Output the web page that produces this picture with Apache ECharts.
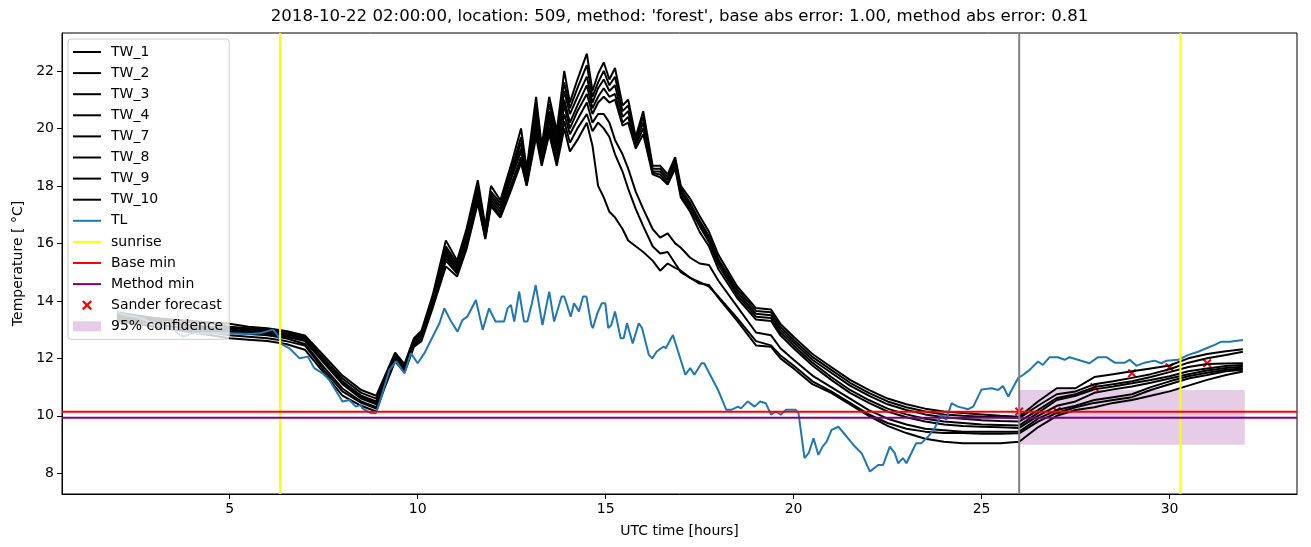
<!DOCTYPE html>
<html>
<head>
<meta charset="utf-8">
<script src="https://cdn.jsdelivr.net/npm/echarts@6/dist/echarts.min.js"></script>
<style>
  html, body { margin: 0; padding: 0; background: #fff; }
  #chart { width: 1311px; height: 547px; }
</style>
</head>
<body>
<div id="chart"></div>
<script>
// hours (UTC) shared by the TW sensors
const twHours = [
  2.0, 2.5, 3.0, 3.5, 4.0, 4.5, 5.0, 5.5, 6.0, 6.5,
  7.0, 7.5, 8.0, 8.5, 8.9, 9.1, 9.4, 9.65, 9.9, 10.1,
  10.4, 10.75, 11.05, 11.3, 11.6, 11.8, 11.95, 12.2, 12.5, 12.75,
  12.9, 13.15, 13.3, 13.5, 13.7, 13.9, 14.05, 14.25, 14.5, 14.65,
  14.8, 14.95, 15.1, 15.25, 15.45, 15.6, 15.8, 16.0, 16.25, 16.45,
  16.65, 16.85, 17.0, 17.25, 17.5, 17.75, 18.0, 18.5, 19.0, 19.4,
  19.65, 20.0, 20.5, 21.0, 21.5, 22.0, 22.5, 23.0, 23.5, 24.0,
  24.5, 25.0, 25.5, 26.0, 26.5, 27.0, 27.5, 28.0, 28.5, 29.0,
  29.5, 30.0, 30.5, 31.0, 31.5, 31.95
];

const tw1 = [
  13.6, 13.5, 13.4, 13.35, 13.3, 13.25, 13.2, 13.1, 13.05, 12.95,
  12.8, 12.1, 11.4, 10.9, 10.7, 11.3, 12.2, 11.8, 12.7, 12.95,
  14.2, 16.1, 15.4, 16.5, 18.2, 16.6, 18.0, 17.5, 18.8, 20.0,
  18.6, 21.1, 19.4, 21.1, 19.9, 22.0, 20.9, 21.7, 22.6, 21.3,
  21.9, 22.3, 21.7, 22.1, 20.8, 21.0, 19.7, 20.6, 18.7, 18.7,
  18.4, 19.0, 18.0, 17.55, 16.95, 16.4, 15.6, 14.5, 13.75, 13.7,
  13.2, 12.75, 12.15, 11.7, 11.25, 10.9, 10.6, 10.4, 10.25, 10.15,
  10.1, 10.05, 10.0, 9.97, 10.5, 10.96, 10.96, 11.35, 11.45, 11.55,
  11.65, 11.75, 12.0, 12.15, 12.25, 12.32
];
const tw2 = [
  13.55, 13.45, 13.35, 13.3, 13.25, 13.2, 13.1, 13.05, 13.0, 12.9,
  12.75, 12.0, 11.3, 10.8, 10.6, 11.2, 12.15, 11.75, 12.65, 12.9,
  14.1, 15.9, 15.3, 16.4, 18.0, 16.5, 17.8, 17.4, 18.6, 19.7,
  18.45, 20.8, 19.25, 20.85, 19.7, 21.6, 20.7, 21.4, 22.2, 21.1,
  21.6, 22.0, 21.5, 21.8, 20.6, 20.8, 19.6, 20.4, 18.6, 18.6,
  18.3, 18.9, 17.9, 17.4, 16.8, 16.25, 15.45, 14.4, 13.65, 13.6,
  13.1, 12.65, 12.05, 11.6, 11.15, 10.8, 10.5, 10.3, 10.15, 10.05,
  10.0, 9.97, 9.95, 9.92, 10.35, 10.75, 10.85, 11.1, 11.2, 11.32,
  11.45, 11.62, 11.85, 12.0, 12.12, 12.23
];
const tw3 = [
  13.5, 13.4, 13.3, 13.2, 13.15, 13.1, 13.05, 13.0, 12.95, 12.85,
  12.7, 11.95, 11.2, 10.7, 10.5, 11.15, 12.1, 11.7, 12.6, 12.85,
  14.05, 15.8, 15.2, 16.3, 17.9, 16.4, 17.7, 17.3, 18.5, 19.5,
  18.35, 20.6, 19.15, 20.6, 19.5, 21.3, 20.5, 21.1, 21.8, 20.9,
  21.4, 21.7, 21.3, 21.5, 20.4, 20.6, 19.5, 20.2, 18.5, 18.5,
  18.2, 18.8, 17.8, 17.3, 16.7, 16.15, 15.35, 14.3, 13.55, 13.5,
  13.0, 12.55, 11.95, 11.5, 11.05, 10.7, 10.4, 10.2, 10.05, 9.95,
  9.9, 9.85, 9.82, 9.8, 10.2, 10.62, 10.75, 11.0, 11.1, 11.2,
  11.35, 11.52, 11.7, 11.8, 11.82, 11.83
];
const tw4 = [
  13.45, 13.35, 13.2, 13.1, 13.05, 13.0, 12.95, 12.9, 12.85, 12.75,
  12.6, 11.85, 11.1, 10.6, 10.4, 11.1, 12.05, 11.65, 12.55, 12.8,
  14.0, 15.7, 15.1, 16.2, 17.8, 16.35, 17.6, 17.2, 18.4, 19.3,
  18.25, 20.4, 19.05, 20.4, 19.3, 21.0, 20.2, 20.8, 21.5, 20.7,
  21.1, 21.4, 21.1, 21.2, 20.2, 20.4, 19.4, 20.0, 18.45, 18.4,
  18.1, 18.7, 17.7, 17.2, 16.6, 16.05, 15.25, 14.2, 13.45, 13.4,
  12.9, 12.45, 11.85, 11.35, 10.9, 10.55, 10.25, 10.05, 9.9, 9.8,
  9.75, 9.7, 9.68, 9.66, 10.1, 10.55, 10.7, 10.92, 11.02, 11.13,
  11.25, 11.38, 11.55, 11.65, 11.73, 11.77
];
const tw7 = [
  13.5, 13.4, 13.3, 13.2, 13.1, 13.05, 13.0, 12.95, 12.9, 12.8,
  12.65, 11.9, 11.15, 10.65, 10.45, 11.1, 12.05, 11.65, 12.55, 12.8,
  13.95, 15.6, 15.05, 16.1, 17.7, 16.3, 17.5, 17.1, 18.3, 19.2,
  18.2, 20.2, 18.95, 20.25, 19.2, 20.8, 20.0, 20.6, 21.2, 20.5,
  20.9, 21.1, 20.9, 21.0, 20.1, 20.2, 19.3, 19.8, 18.4, 18.3,
  18.05, 18.6, 17.6, 17.1, 16.4, 15.9, 15.1, 14.1, 13.35, 13.3,
  12.8, 12.35, 11.75, 11.25, 10.8, 10.45, 10.15, 9.95, 9.8, 9.7,
  9.65, 9.62, 9.6, 9.58, 10.0, 10.35, 10.5, 10.8, 10.92, 11.02,
  11.15, 11.3, 11.45, 11.58, 11.66, 11.71
];
const tw8 = [
  13.4, 13.3, 13.2, 13.1, 13.0, 12.95, 12.9, 12.85, 12.8, 12.7,
  12.5, 11.7, 10.95, 10.5, 10.3, 11.0, 12.0, 11.6, 12.5, 12.75,
  13.9, 15.5, 15.0, 16.0, 17.6, 16.25, 17.4, 17.0, 18.1, 19.0,
  18.1, 20.0, 18.85, 20.05, 19.0, 20.5, 19.8, 20.3, 20.9, 20.2,
  20.5, 20.5, 20.2, 19.6, 19.1, 18.6, 17.8, 17.2, 16.5, 16.2,
  16.35, 16.0, 15.85, 15.5, 15.3, 15.25, 14.7, 13.8, 12.9, 12.8,
  12.35, 11.95, 11.4, 11.0, 10.6, 10.2, 9.9, 9.7, 9.55, 9.5,
  9.45, 9.45, 9.45, 9.45, 9.9, 10.2, 10.35, 10.55, 10.65, 10.75,
  11.0, 11.2, 11.38, 11.5, 11.6, 11.65
];
const tw9 = [
  13.35, 13.25, 13.1, 13.0, 12.95, 12.9, 12.8, 12.75, 12.7, 12.6,
  12.45, 11.6, 10.85, 10.45, 10.25, 10.95, 11.95, 11.55, 12.45, 12.7,
  13.85, 15.4, 14.95, 15.9, 17.5, 16.2, 17.35, 16.95, 18.0, 18.9,
  18.05, 19.85, 18.8, 19.9, 18.85, 20.25, 19.5, 20.0, 20.5, 19.9,
  20.2, 20.0, 19.7, 19.1, 18.5, 17.9, 17.2, 16.6, 15.9, 15.65,
  15.7, 15.3, 15.0, 14.8, 14.65, 14.5, 14.15, 13.4, 12.6, 12.45,
  12.1, 11.75, 11.2, 10.85, 10.45, 10.05, 9.75, 9.55, 9.45, 9.4,
  9.4, 9.38, 9.38, 9.39, 9.8, 10.1, 10.3, 10.45, 10.55, 10.65,
  10.9, 11.1, 11.3, 11.42, 11.55, 11.6
];
const tw10 = [
  13.3, 13.2, 13.1, 13.0, 12.9, 12.8, 12.7, 12.65, 12.6, 12.5,
  12.3, 11.5, 10.7, 10.35, 10.15, 10.9, 11.9, 11.5, 12.4, 12.6,
  13.75, 15.2, 14.85, 15.8, 17.4, 16.15, 17.3, 16.9, 17.9, 18.8,
  18.0, 19.7, 18.7, 19.8, 18.7, 20.0, 19.2, 19.6, 20.2, 19.4,
  18.0, 17.6, 17.1, 16.9, 16.5, 16.1, 15.9, 15.7, 15.4, 15.05,
  15.3, 15.15, 15.05, 14.8, 14.6, 14.55, 14.1, 13.3, 12.45, 12.4,
  12.0, 11.65, 11.1, 10.8, 10.4, 10.0, 9.65, 9.4, 9.2, 9.1,
  9.05, 9.05, 9.05, 9.1, 9.6, 10.0, 10.2, 10.3, 10.45, 10.55,
  10.7, 10.85, 11.05, 11.25, 11.42, 11.54
];

const twNames = ['TW_1', 'TW_2', 'TW_3', 'TW_4', 'TW_7', 'TW_8', 'TW_9', 'TW_10'];
const twSeries = [tw1, tw2, tw3, tw4, tw7, tw8, tw9, tw10];

// air temperature TL, [hour, value]
const tlReadings = [
  [2.0, 13.6], [2.25, 13.5], [2.5, 13.45], [2.75, 13.35], [3.0, 13.2], [3.25, 13.1],
  [3.5, 13.0], [3.75, 12.75], [4.0, 12.87], [4.5, 12.87], [5.0, 12.87], [5.5, 12.85],
  [5.8, 12.87], [6.15, 13.0], [6.28, 12.8], [6.37, 12.5], [6.59, 12.35], [6.86, 12.0],
  [7.08, 12.06], [7.25, 11.66], [7.47, 11.48], [7.65, 11.25], [7.92, 10.67], [8.0, 10.5],
  [8.18, 10.55], [8.36, 10.32], [8.49, 10.38], [8.53, 10.26], [8.76, 10.09], [8.89, 10.09],
  [8.98, 10.44], [9.25, 11.6], [9.43, 11.9], [9.65, 11.48], [9.82, 12.18], [10.0, 11.83],
  [10.18, 12.18], [10.58, 13.22], [10.71, 13.74], [10.89, 13.28], [11.06, 12.93], [11.19, 13.33],
  [11.32, 13.45], [11.55, 14.03], [11.73, 12.99], [11.9, 13.74], [12.07, 13.28], [12.3, 13.28],
  [12.39, 13.74], [12.48, 13.86], [12.57, 13.28], [12.7, 14.32], [12.83, 13.28], [12.92, 13.28],
  [13.04, 13.92], [13.14, 14.55], [13.32, 13.16], [13.5, 14.32], [13.63, 13.28], [13.83, 14.15],
  [13.9, 14.15], [14.07, 13.45], [14.16, 13.92], [14.29, 13.63], [14.4, 14.15], [14.49, 14.15],
  [14.62, 13.16], [14.66, 13.05], [14.78, 13.57], [14.9, 13.92], [14.99, 13.92], [15.07, 13.05],
  [15.15, 13.16], [15.25, 13.63], [15.4, 12.7], [15.48, 12.7], [15.57, 13.22], [15.72, 12.52],
  [15.88, 13.22], [15.97, 13.05], [16.15, 12.12], [16.24, 12.0], [16.36, 12.24], [16.54, 12.41],
  [16.6, 12.35], [16.79, 12.81], [17.12, 11.43], [17.25, 11.66], [17.36, 11.43], [17.55, 11.83],
  [17.62, 11.83], [17.99, 10.9], [18.21, 10.21], [18.34, 10.21], [18.52, 10.32], [18.6, 10.26],
  [18.78, 10.5], [18.96, 10.32], [19.11, 10.5], [19.26, 10.44], [19.4, 10.04], [19.53, 10.15],
  [19.66, 10.04], [19.8, 10.21], [20.06, 10.21], [20.13, 10.09], [20.29, 8.53], [20.4, 8.7],
  [20.53, 9.22], [20.66, 8.64], [20.77, 8.93], [20.88, 9.1], [21.01, 9.51], [21.19, 9.62],
  [21.41, 9.28], [21.63, 8.93], [21.81, 8.7], [22.03, 8.06], [22.25, 8.29], [22.38, 8.29],
  [22.56, 8.93], [22.69, 8.7], [22.78, 8.35], [22.91, 8.53], [23.0, 8.35], [23.13, 8.7],
  [23.26, 9.05], [23.4, 9.05], [23.58, 9.28], [23.75, 9.57], [23.93, 10.03], [24.06, 9.86],
  [24.2, 10.44], [24.37, 10.32], [24.64, 10.23], [24.78, 10.32], [25.0, 10.92], [25.27, 10.96],
  [25.44, 10.9], [25.57, 11.04], [25.71, 10.67], [25.8, 10.9], [25.97, 11.31], [26.1, 11.42],
  [26.28, 11.6], [26.5, 11.89], [26.63, 11.77], [26.81, 12.04], [27.03, 12.04], [27.21, 11.95],
  [27.34, 12.04], [27.56, 11.95], [27.87, 11.83], [28.1, 12.04], [28.32, 12.04], [28.54, 11.85],
  [28.81, 11.85], [28.94, 11.95], [29.12, 11.74], [29.34, 11.85], [29.6, 11.92], [29.78, 11.83],
  [29.92, 11.92], [30.23, 11.95], [30.5, 12.12], [30.76, 12.23], [30.98, 12.35], [31.2, 12.47],
  [31.38, 12.58], [31.6, 12.58], [31.95, 12.64]
];

const sanderHours = [26, 27, 28, 29, 30, 31];
const sanderTemps = [10.15, 10.17, 11.0, 11.48, 11.69, 11.83];

const sunriseHours = [6.34, 30.29];
const forecastHour = 26;
const baseMin = 10.14;
const methodMin = 9.93;
const confStart = 26;
const confEnd = 32;
const confLow = 8.99;
const confHigh = 10.9;

const xTicks = [5, 10, 15, 20, 25, 30];
const yTicks = [8, 10, 12, 14, 16, 18, 20, 22];

const X_MIN = 0.54, X_MAX = 33.39;
const Y_MIN = 7.28, Y_MAX = 23.32;
const FONT = 'DejaVu Sans';
const X_SHAPE = 'path://M0,1.6L1.6,0L5,3.4L8.4,0L10,1.6L6.6,5L10,8.4L8.4,10L5,6.6L1.6,10L0,8.4L3.4,5Z';
const LINE_ICON = 'path://M0,0L28,0L28,2L0,2Z';

const series = [];
twNames.forEach((name, k) => {
  series.push({
    name: name,
    type: 'line',
    symbol: 'none',
    color: '#000000',
    lineStyle: { color: '#000000', width: 2 },
    data: twHours.map((h, i) => [h, twSeries[k][i]])
  });
});
series.push({
  name: 'TL',
  type: 'line',
  symbol: 'none',
  color: '#1f77b4',
  lineStyle: { color: '#1f77b4', width: 2 },
  data: tlReadings
});
sunriseHours.forEach(h => {
  series.push({
    name: 'sunrise',
    type: 'line',
    symbol: 'none',
    color: '#ffff00',
    lineStyle: { color: '#ffff00', width: 2 },
    data: [[h, Y_MIN], [h, Y_MAX]]
  });
});
series.push({
  name: 'Base min',
  type: 'line',
  symbol: 'none',
  color: '#ff0000',
  lineStyle: { color: '#ff0000', width: 2 },
  data: [[X_MIN, baseMin], [X_MAX, baseMin]]
});
series.push({
  name: 'Method min',
  type: 'line',
  symbol: 'none',
  color: '#800080',
  lineStyle: { color: '#800080', width: 2 },
  data: [[X_MIN, methodMin], [X_MAX, methodMin]]
});
series.push({
  name: 'forecast time',
  type: 'line',
  symbol: 'none',
  color: '#808080',
  lineStyle: { color: '#808080', width: 2 },
  data: [[forecastHour, Y_MIN], [forecastHour, Y_MAX]]
});
series.push({
  name: '95% confidence',
  type: 'line',
  symbol: 'none',
  color: 'rgba(128,0,128,0.2)',
  lineStyle: { width: 0, opacity: 0 },
  areaStyle: { color: 'rgba(128,0,128,0.2)', opacity: 1, origin: confLow },
  data: [[confStart, confHigh], [confEnd, confHigh]]
});
series.push({
  name: 'Sander forecast',
  type: 'scatter',
  symbol: X_SHAPE,
  symbolSize: 9,
  color: '#ff0000',
  itemStyle: { color: '#ff0000', opacity: 1 },
  data: sanderHours.map((h, i) => [h, sanderTemps[i]])
});

const legendNames = twNames.concat(['TL', 'sunrise', 'Base min', 'Method min']);
const legendData = legendNames.map(n => ({ name: n, icon: LINE_ICON }));
legendData.push({ name: 'Sander forecast', icon: X_SHAPE, itemStyle: { color: '#ff0000', opacity: 1 } });
legendData.push({ name: '95% confidence', icon: 'rect', itemStyle: { color: 'rgba(128,0,128,0.2)' } });

const option = {
  animation: false,
  backgroundColor: '#ffffff',
  textStyle: { fontFamily: FONT },
  graphic: [{
    type: 'text',
    x: 679.5,
    y: 17,
    style: {
      text: "2018-10-22 02:00:00, location: 509, method: 'forest', base abs error: 1.00, method abs error: 0.81",
      fill: '#000',
      fontFamily: FONT,
      fontSize: 16.6,
      align: 'center',
      verticalAlign: 'middle'
    }
  }],
  legend: {
    orient: 'vertical',
    left: 68,
    top: 39,
    padding: [6, 6, 6, 5],
    itemWidth: 28,
    itemHeight: 10,
    itemGap: 7.1,
    selectedMode: false,
    backgroundColor: 'rgba(255,255,255,0.8)',
    borderColor: '#cccccc',
    borderWidth: 1,
    borderRadius: 3,
    textStyle: { fontFamily: FONT, fontSize: 14, color: '#000', padding: [0, 0, 0, 5] },
    data: legendData
  },
  grid: {
    left: 62,
    right: 14,
    top: 33,
    bottom: 53,
    show: true,
    borderColor: '#000',
    borderWidth: 1,
    containLabel: false
  },
  xAxis: {
    type: 'value',
    min: X_MIN,
    max: X_MAX,
    name: 'UTC time [hours]',
    nameLocation: 'middle',
    nameGap: 30,
    nameTextStyle: { fontFamily: FONT, fontSize: 14, color: '#000' },
    axisLine: { show: true, lineStyle: { color: '#000', width: 1 } },
    axisTick: { show: true, length: 5, lineStyle: { color: '#000' }, customValues: xTicks },
    axisLabel: { color: '#000', fontFamily: FONT, fontSize: 14, margin: 8, customValues: xTicks },
    splitLine: { show: false }
  },
  yAxis: {
    type: 'value',
    min: Y_MIN,
    max: Y_MAX,
    name: 'Temperature [ °C]',
    nameLocation: 'middle',
    nameGap: 37,
    nameTextStyle: { fontFamily: FONT, fontSize: 14, color: '#000' },
    axisLine: { show: true, lineStyle: { color: '#000', width: 1 } },
    axisTick: { show: true, length: 5, lineStyle: { color: '#000' }, customValues: yTicks },
    axisLabel: { color: '#000', fontFamily: FONT, fontSize: 14, margin: 8, customValues: yTicks },
    splitLine: { show: false }
  },
  series: series
};

const chart = echarts.init(document.getElementById('chart'), null, { renderer: 'canvas' });
chart.setOption(option);
</script>
</body>
</html>
